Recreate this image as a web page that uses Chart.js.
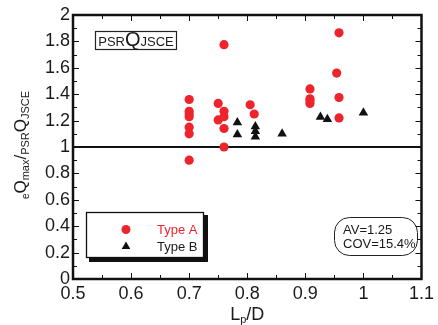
<!DOCTYPE html>
<html>
<head>
<meta charset="utf-8">
<script src="https://cdn.jsdelivr.net/npm/chart.js@4"></script>
<style>
html,body{margin:0;padding:0;background:#fff;}
#c{display:block;}
</style>
</head>
<body>
<canvas id="c" width="438" height="325"></canvas>
<script>
// ---- data ----
const typeA_x = [0.70,0.70,0.70,0.70,0.70,0.70,0.70, 0.75,0.75, 0.76,0.76,0.76,0.76,0.76, 0.805,0.812, 0.908,0.908,0.908,0.908, 0.954, 0.958,0.958,0.958];
const typeA_y = [1.36,1.27,1.25,1.23,1.15,1.10,0.90, 1.33,1.205, 1.775,1.27,1.23,1.14,1.00, 1.32,1.25, 1.44,1.365,1.35,1.33, 1.56, 1.865,1.375,1.22];
const typeB_x = [0.783,0.783, 0.814,0.814,0.814, 0.86, 0.926,0.938, 1.0];
const typeB_y = [1.185,1.095, 1.155,1.12,1.077, 1.10, 1.228,1.21, 1.26];
const seriesNames = ['Type A','Type B'];
const xTickValues = [0.5,0.6,0.7,0.8,0.9,1.0,1.1];
const xTickLabels = ['0.5','0.6','0.7','0.8','0.9','1','1.1'];
const xMinorTicks = [0.55,0.65,0.75,0.85,0.95,1.05];
const yTickValues = [0,0.2,0.4,0.6,0.8,1.0,1.2,1.4,1.6,1.8,2.0];
const yTickLabels = ['0','0.2','0.4','0.6','0.8','1','1.2','1.4','1.6','1.8','2'];
const yMinorTicks = [0.1,0.3,0.5,0.7,0.9,1.1,1.3,1.5,1.7,1.9];
const referenceLineY = 1;
const statsLines = ['AV=1.25','COV=15.4%'];

const RED = 'rgb(237,36,44)';
const FONT = '"Liberation Sans", Arial, Helvetica, sans-serif';

function pts(xs, ys){ return xs.map((x,i)=>({x:x, y:ys[i]})); }

function drawRich(ctx, parts, x, y, align){
  let total = 0;
  parts.forEach(p=>{ ctx.font = p[1]+'px '+FONT; total += ctx.measureText(p[0]).width; });
  let cx = align==='center' ? x - total/2 : x;
  ctx.textAlign = 'left';
  ctx.textBaseline = 'alphabetic';
  parts.forEach(p=>{ ctx.font = p[1]+'px '+FONT; ctx.fillText(p[0], cx, y + p[2]); cx += ctx.measureText(p[0]).width; });
}

const framePlugin = {
  id: 'frame',
  beforeDatasetsDraw(chart){
    const ctx = chart.ctx, a = chart.chartArea;
    const xs = chart.scales.x, ys = chart.scales.y;
    ctx.save();
    ctx.strokeStyle = '#111';
    ctx.lineWidth = 1;
    const tick = (x1,y1,x2,y2)=>{ ctx.beginPath(); ctx.moveTo(x1,y1); ctx.lineTo(x2,y2); ctx.stroke(); };
    yTickValues.forEach(v=>{ const p = Math.round(ys.getPixelForValue(v))+0.5; tick(a.left,p,a.left+6,p); tick(a.right,p,a.right-6,p); });
    yMinorTicks.forEach(v=>{ const p = Math.round(ys.getPixelForValue(v))+0.5; tick(a.left,p,a.left+4,p); tick(a.right,p,a.right-4,p); });
    xTickValues.forEach(v=>{ const p = Math.round(xs.getPixelForValue(v))+0.5; tick(p,a.bottom,p,a.bottom-6); tick(p,a.top,p,a.top+6); });
    xMinorTicks.forEach(v=>{ const p = Math.round(xs.getPixelForValue(v))+0.5; tick(p,a.bottom,p,a.bottom-4); tick(p,a.top,p,a.top+4); });
    ctx.lineWidth = 2;
    const ry = ys.getPixelForValue(referenceLineY);
    tick(a.left, ry, a.right, ry);
    ctx.lineWidth = 2.5;
    ctx.strokeRect(a.left, a.top, a.right-a.left, a.bottom-a.top);
    ctx.restore();
  },
  afterDraw(chart){
    const ctx = chart.ctx, a = chart.chartArea;
    ctx.save();
    ctx.fillStyle = '#1a1a1a';
    // x title
    drawRich(ctx, [['L',18,0],['p',11,3],['/D',18,0]], (a.left+a.right)/2, 320, 'center');
    // y title (rotated)
    ctx.save();
    ctx.translate(26, (a.top+a.bottom)/2 - 2);
    ctx.rotate(-Math.PI/2);
    drawRich(ctx, [['e',10,3],['Q',17,0],['max',11,3],['/',17,0],['PSR',11,3],['Q',17,0],['JSCE',11,3]], 0, 0, 'center');
    ctx.restore();

    // PSRQJSCE box
    ctx.lineWidth = 1.2;
    ctx.strokeStyle = '#222';
    ctx.strokeRect(95.5, 31.5, 81, 18);
    ctx.fillStyle = '#1a1a1a';
    drawRich(ctx, [['PSR',13,0],['Q',20,0],['JSCE',13,0]], 136, 46, 'center');

    // legend box with shadow
    ctx.fillStyle = '#111';
    ctx.fillRect(89, 215, 119, 47);
    ctx.fillStyle = '#fff';
    ctx.fillRect(86, 212, 118, 46);
    ctx.lineWidth = 1.3;
    ctx.strokeStyle = '#111';
    ctx.strokeRect(86.5, 212.5, 117, 45);
    ctx.fillStyle = RED;
    ctx.beginPath(); ctx.arc(126, 229.5, 4.5, 0, Math.PI*2); ctx.fill();
    ctx.fillStyle = '#111';
    ctx.beginPath();
    const tr = 5;
    ctx.moveTo(126, 246.5 - tr);
    ctx.lineTo(126 + tr*Math.sin(Math.PI*2/3), 246.5 - tr*Math.cos(Math.PI*2/3));
    ctx.lineTo(126 - tr*Math.sin(Math.PI*2/3), 246.5 - tr*Math.cos(Math.PI*2/3));
    ctx.closePath(); ctx.fill();
    ctx.font = '13px '+FONT;
    ctx.textAlign = 'left'; ctx.textBaseline = 'middle';
    ctx.fillStyle = RED; ctx.fillText(seriesNames[0], 157, 230);
    ctx.fillStyle = '#1a1a1a'; ctx.fillText(seriesNames[1], 157, 247);

    // stats box
    ctx.lineWidth = 1;
    ctx.strokeStyle = '#222';
    ctx.beginPath();
    if (ctx.roundRect) ctx.roundRect(334.5, 217.5, 83, 38, 15); else ctx.rect(334.5,217.5,83,38);
    ctx.stroke();
    ctx.fillStyle = '#1a1a1a';
    ctx.font = '13px '+FONT;
    ctx.textBaseline = 'alphabetic';
    ctx.fillText(statsLines[0], 343, 234);
    ctx.fillText(statsLines[1], 343, 248);
    ctx.restore();
  }
};

new Chart(document.getElementById('c'), {
  type: 'scatter',
  data: {
    datasets: [
      { label: seriesNames[0], data: pts(typeA_x, typeA_y), pointStyle: 'circle', pointRadius: 4.6, backgroundColor: RED, borderColor: RED, borderWidth: 0, pointHoverRadius: 4.6 },
      { label: seriesNames[1], data: pts(typeB_x, typeB_y), pointStyle: 'triangle', pointRadius: 5.5, backgroundColor: '#111', borderColor: '#111', borderWidth: 0, pointHoverRadius: 5.5 }
    ]
  },
  options: {
    responsive: false,
    animation: false,
    events: [],
    layout: { padding: { left: 0, right: 16, top: 15, bottom: 0 } },
    plugins: { legend: { display: false }, tooltip: { enabled: false } },
    scales: {
      x: {
        type: 'linear', min: 0.5, max: 1.1,
        grid: { display: false, drawTicks: false },
        border: { display: false },
        afterBuildTicks: s => { s.ticks = xTickValues.map(v=>({value:v})); },
        afterFit: s => { s.height = 46; },
        ticks: { autoSkip: false, maxRotation: 0, padding: 4, color: '#1a1a1a', font: { family: FONT, size: 18 },
          callback: (v, i) => xTickLabels[i] }
      },
      y: {
        type: 'linear', min: 0, max: 2,
        grid: { display: false, drawTicks: false },
        border: { display: false },
        afterBuildTicks: s => { s.ticks = yTickValues.map(v=>({value:v})); },
        afterFit: s => { s.width = 73; },
        ticks: { autoSkip: false, padding: 3, color: '#1a1a1a', font: { family: FONT, size: 18 },
          callback: (v, i) => yTickLabels[i] }
      }
    }
  },
  plugins: [framePlugin]
});
</script>
</body>
</html>
